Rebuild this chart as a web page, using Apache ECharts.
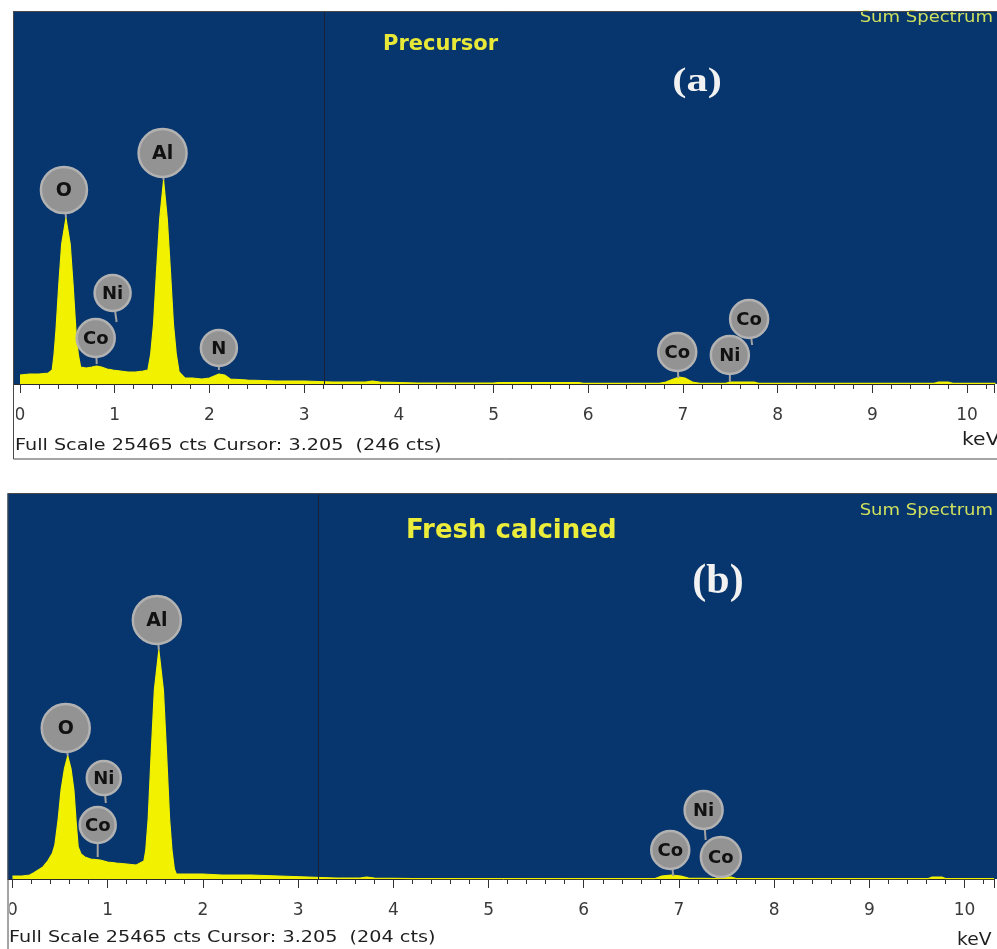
<!DOCTYPE html>
<html>
<head>
<meta charset="utf-8">
<script src="https://cdn.jsdelivr.net/npm/echarts@6/dist/echarts.min.js"></script>
<style>
  html, body { margin: 0; padding: 0; background: #ffffff; }
  #chart { width: 997px; height: 949px; }
</style>
</head>
<body>
<div id="chart"></div>
<script>
// EDS sum spectra of the Co-Ni/Al catalyst: (a) precursor, (b) fresh calcined.

// Shared acquisition readout
const fullScaleCts = 25465;
const cursorKeV = 3.205;
const cursorCtsA = 246;
const cursorCtsB = 204;
const tickLabels = ['0', '1', '2', '3', '4', '5', '6', '7', '8', '9', '10'];

// (a) Precursor spectrum: energy (keV) and counts
const energyA = [0.00, 0.10, 0.20, 0.30, 0.34, 0.36, 0.38, 0.41, 0.44, 0.485,
  0.53, 0.56, 0.59, 0.615, 0.64, 0.70, 0.76, 0.81, 0.86, 0.92,
  0.98, 1.06, 1.14, 1.22, 1.30, 1.35, 1.38, 1.41, 1.44, 1.475,
  1.516, 1.555, 1.59, 1.62, 1.65, 1.68, 1.74, 1.82, 1.92, 2.00,
  2.05, 2.10, 2.16, 2.22, 2.40, 2.70, 3.00, 3.30, 3.65, 3.72,
  3.80, 4.20, 5.00, 5.05, 5.90, 5.95, 6.75, 6.82, 6.90, 6.96,
  7.02, 7.10, 7.18, 7.45, 7.50, 7.75, 7.80, 9.65, 9.70, 9.80,
  9.85, 10.30];
const countsA = [614, 683, 683, 751, 956, 2048, 3687, 6827, 9558, 11333,
  9558, 6827, 3687, 2048, 1160, 1092, 1160, 1229, 1160, 1024,
  956, 887, 819, 819, 887, 956, 2048, 4096, 7510, 11264,
  13927, 11264, 7510, 4096, 2048, 819, 410, 410, 341, 410,
  546, 683, 614, 341, 273, 205, 205, 137, 137, 205,
  137, 68, 68, 100, 100, 40, 40, 137, 341, 478,
  410, 137, 40, 40, 137, 137, 40, 40, 137, 137,
  40, 40];

// (b) Fresh calcined spectrum: energy (keV) and counts
const energyB = [0.00, 0.10, 0.18, 0.22, 0.27, 0.32, 0.37, 0.42, 0.445, 0.48,
  0.51, 0.545, 0.58, 0.615, 0.645, 0.67, 0.69, 0.72, 0.76, 0.82,
  0.92, 1.00, 1.09, 1.20, 1.30, 1.38, 1.40, 1.425, 1.455, 1.49,
  1.537, 1.585, 1.62, 1.65, 1.675, 1.70, 1.72, 1.80, 2.00, 2.20,
  2.50, 2.80, 3.10, 3.40, 3.65, 3.72, 3.80, 4.20, 6.75, 6.82,
  6.92, 7.02, 7.10, 7.38, 7.42, 7.55, 7.60, 9.62, 9.66, 9.76,
  9.80, 10.31];
const countsB = [198, 198, 264, 396, 594, 792, 1187, 1715, 2243, 3958,
  5871, 7257, 8114, 7257, 5871, 3628, 2111, 1649, 1451, 1319,
  1253, 1121, 1055, 990, 924, 1187, 1913, 3958, 8048, 12468,
  15107, 12468, 8048, 3958, 1913, 660, 330, 330, 330, 264,
  264, 198, 132, 66, 66, 132, 66, 30, 30, 198,
  264, 198, 66, 30, 132, 132, 30, 30, 132, 132,
  30, 30];

// Element markers: name, energy the marker points at, counts at the marker tip
const peakNamesA = ['O', 'Al', 'Ni', 'Co', 'N', 'Co', 'Ni', 'Co'];
const peakKeVA = [0.485, 1.516, 1.02, 0.81, 2.10, 6.95, 7.495, 7.73];
const peakCtsA = [11333, 13927, 4233, 1365, 956, 410, 137, 2663];

const peakNamesB = ['O', 'Al', 'Ni', 'Co', 'Ni', 'Co', 'Co'];
const peakKeVB = [0.58, 1.537, 0.98, 0.895, 7.28, 6.94, 7.44];
const peakCtsB = [8114, 15107, 5014, 1451, 2573, 198, 66];

// Bubble placement relative to the marker tip, in pixels: [dx, dy, radius]
const bubbleLayoutA = [[-2, -28, 23], [-1, -27, 24], [-4, -29, 18], [-1, -26, 19],
  [0, -22, 18], [-1, -26, 19], [0, -27, 19], [-3, -26, 19]];
const bubbleLayoutB = [[-2, -28, 24], [-2, -30, 24], [-2, -25, 17], [0, -32, 18],
  [-2, -30, 19], [-3, -26, 19], [0, -21, 20]];

const pairs = (xs, ys) => xs.map((x, i) => [x, ys[i]]);

const PANEL_BLUE = '#07366e';
const SPECTRUM_YELLOW = '#f2f200';

function bubbleRenderer(names, layout) {
  return function (params, api) {
    const i = params.dataIndex;
    const tip = api.coord([api.value(0), api.value(1)]);
    const [dx, dy, r] = layout[i];
    const cx = tip[0] + dx;
    const cy = tip[1] + dy;
    const big = r >= 23;
    return {
      type: 'group',
      children: [
        { type: 'line', shape: { x1: cx, y1: cy, x2: tip[0], y2: tip[1] },
          style: { stroke: '#a3a3a3', lineWidth: 2 } },
        { type: 'circle', shape: { cx: cx, cy: cy, r: r },
          style: { fill: '#939393', stroke: '#b2b2b2', lineWidth: 2.5 } },
        { type: 'text', x: cx, y: cy + 1,
          style: { text: names[i], fill: '#111111',
            font: 'bold ' + (big ? 19 : 18) + 'px "DejaVu Sans"',
            align: 'center', verticalAlign: 'middle' } }
      ]
    };
  };
}

function xAxisFor(gridIndex, max) {
  return {
    type: 'value', gridIndex: gridIndex, min: 0, max: max, interval: 1,
    axisLine: { show: true, onZero: false, lineStyle: { color: '#2a2a2a', width: 1 } },
    axisTick: { show: true, inside: false, length: 9, lineStyle: { color: '#333333' } },
    minorTick: { show: true, splitNumber: 5, length: 5, lineStyle: { color: '#333333' } },
    splitLine: { show: false },
    axisLabel: {
      show: true, margin: 23, color: '#3a3a3a', fontSize: 17, fontFamily: 'DejaVu Sans',
      formatter: v => {
        const k = Math.round(v);
        return Math.abs(v - k) < 1e-6 && tickLabels[k] !== undefined ? tickLabels[k] : '';
      }
    }
  };
}

function yAxisFor(gridIndex) {
  return { type: 'value', gridIndex: gridIndex, min: 0, max: fullScaleCts, show: false };
}

function spectrumSeries(idx, data) {
  return {
    type: 'line', xAxisIndex: idx, yAxisIndex: idx, data: data,
    showSymbol: false, symbol: 'none', silent: true, z: 3,
    lineStyle: { color: SPECTRUM_YELLOW, width: 1.2 },
    areaStyle: { color: SPECTRUM_YELLOW, opacity: 1 },
    markLine: {
      silent: true, symbol: 'none', animation: false,
      label: { show: false },
      lineStyle: { color: '#1a2236', width: 1, type: 'solid' },
      data: [{ xAxis: cursorKeV }]
    }
  };
}

function markerSeries(idx, names, kev, cts, layout) {
  return {
    type: 'custom', xAxisIndex: idx, yAxisIndex: idx, z: 10, clip: false, silent: true,
    renderItem: bubbleRenderer(names, layout),
    data: pairs(kev, cts)
  };
}

function label(text, x, y, font, fill, align, scaleX) {
  return {
    type: 'text', x: x, y: y, z: 20, scaleX: scaleX || 1,
    style: { text: text, font: font, fill: fill, align: align || 'left', verticalAlign: 'middle' }
  };
}

const footerA = 'Full Scale ' + fullScaleCts + ' cts Cursor: ' + cursorKeV.toFixed(3) + '  (' + cursorCtsA + ' cts)';
const footerB = 'Full Scale ' + fullScaleCts + ' cts Cursor: ' + cursorKeV.toFixed(3) + '  (' + cursorCtsB + ' cts)';

const chart = echarts.init(document.getElementById('chart'), null, { renderer: 'canvas' });
chart.setOption({
  animation: false,
  backgroundColor: '#ffffff',
  grid: [
    { left: 20, top: 11, width: 977, height: 373, containLabel: false },
    { left: 12.5, top: 493, width: 984.5, height: 386, containLabel: false }
  ],
  xAxis: [xAxisFor(0, 10.284), xAxisFor(1, 10.309)],
  yAxis: [yAxisFor(0), yAxisFor(1)],
  series: [
    spectrumSeries(0, pairs(energyA, countsA)),
    markerSeries(0, peakNamesA, peakKeVA, peakCtsA, bubbleLayoutA),
    spectrumSeries(1, pairs(energyB, countsB)),
    markerSeries(1, peakNamesB, peakKeVB, peakCtsB, bubbleLayoutB)
  ],
  graphic: [
    // panel (a) frame and plot background
    { type: 'rect', z: -5, shape: { x: 13, y: 11, width: 984, height: 373 }, style: { fill: PANEL_BLUE } },
    { type: 'line', z: -4, shape: { x1: 13, y1: 384.5, x2: 20, y2: 384.5 }, style: { stroke: '#2a2a2a', lineWidth: 1 } },
    { type: 'rect', z: 30, shape: { x: 0, y: 386, width: 16, height: 72 }, style: { fill: '#ffffff' } },
    { type: 'rect', z: 31, shape: { x: 13.5, y: 11.5, width: 1000, height: 447.5 },
      style: { fill: 'none', stroke: '#4a4a4a', lineWidth: 1 } },
    // panel (b) frame and plot background
    { type: 'rect', z: -5, shape: { x: 7.5, y: 493, width: 990, height: 386 }, style: { fill: PANEL_BLUE } },
    { type: 'line', z: -4, shape: { x1: 7.5, y1: 879.5, x2: 12.5, y2: 879.5 }, style: { stroke: '#2a2a2a', lineWidth: 1 } },
    { type: 'rect', z: 30, shape: { x: 0, y: 882, width: 9.5, height: 67 }, style: { fill: '#ffffff' } },
    { type: 'rect', z: 31, shape: { x: 8, y: 493.5, width: 1000, height: 480 },
      style: { fill: 'none', stroke: '#4a4a4a', lineWidth: 1 } },

    // panel (a) texts
    label('Sum Spectrum', 993, 18, '15px "DejaVu Sans"', '#cfe05e', 'right', 1.2),
    label('Precursor', 383, 45, 'bold 21px "DejaVu Sans"', '#e8e838'),
    label('(a)', 697, 82, 'bold 34px "Liberation Serif"', '#f2f2f2', 'center', 1.25),
    label(footerA, 15, 446, '16px "DejaVu Sans"', '#1e1e1e', 'left', 1.2),
    label('keV', 962, 441, '17px "DejaVu Sans"', '#1e1e1e', 'left', 1.2),

    // panel (b) texts
    label('Sum Spectrum', 993, 511, '15px "DejaVu Sans"', '#cfe05e', 'right', 1.2),
    label('Fresh calcined', 406, 531, 'bold 26px "DejaVu Sans"', '#ecec3a'),
    label('(b)', 718, 582, 'bold 42px "Liberation Serif"', '#f2f2f2', 'center'),
    label(footerB, 9, 938, '16px "DejaVu Sans"', '#1e1e1e', 'left', 1.2),
    label('keV', 957, 941, '17px "DejaVu Sans"', '#1e1e1e', 'left', 1.1)
  ]
});
</script>
</body>
</html>
